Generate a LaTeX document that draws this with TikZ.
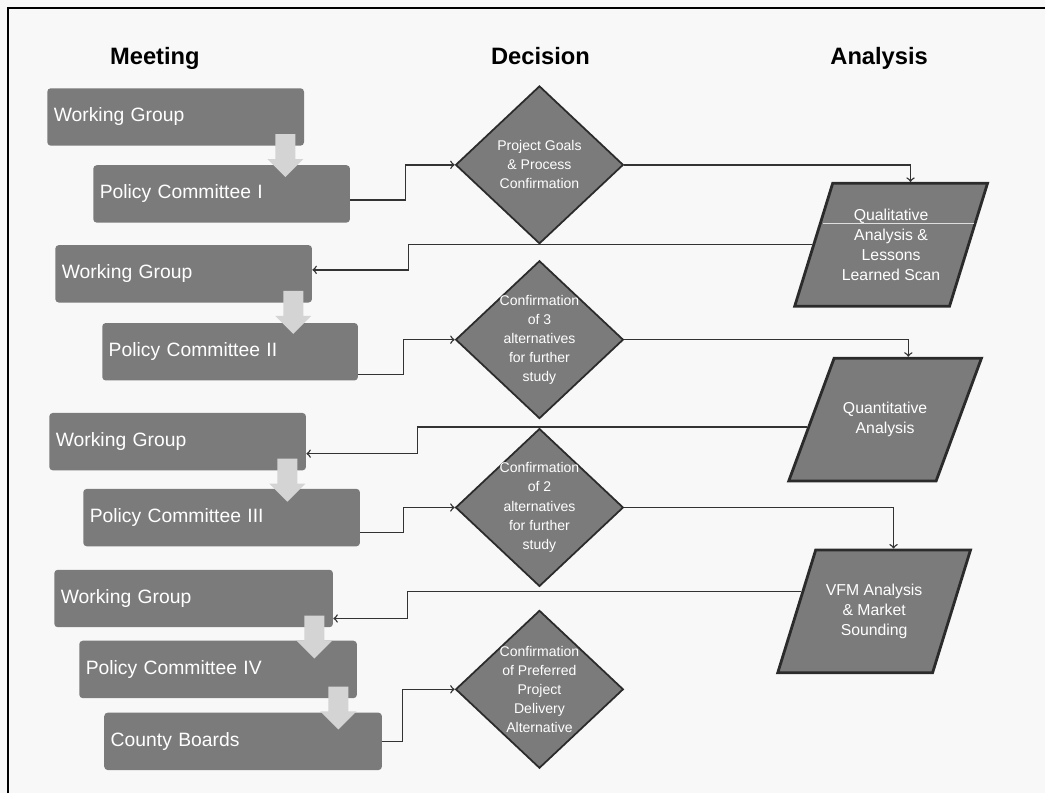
\documentclass[tikz,border=0pt]{standalone}
\usepackage{xcolor}
\usepackage{fontspec}
\setmainfont{Liberation Sans}
\usetikzlibrary{shapes.geometric,calc}

\definecolor{boxgray}{HTML}{7B7B7B}
\definecolor{edgegray}{HTML}{2B2B2B}
\definecolor{paper}{HTML}{F8F8F8}

\begin{document}
\begin{tikzpicture}[x=0.02cm,y=-0.02cm]
    	\colorlet{linecolor}{black!80}
    	\colorlet{flowcolor}{black!17}
    	\tikzset{meetbox/.style={rectangle,rounded corners=2pt,fill=boxgray,text=white,
    	  anchor=north west,minimum height=1.15cm,inner xsep=0.13cm,
    	  text width=#1,align=left,font=\fontsize{11}{13}\selectfont}}
    	\tikzset{decbox/.style={diamond,draw=edgegray,line width=1pt,fill=boxgray,
    	  minimum width=3.36cm,minimum height=3.16cm,inner sep=0pt}}
    	\tikzset{dectext/.style={text=white,align=center,font=\fontsize{8}{10.9}\selectfont}}
    	\tikzset{anabox/.style={trapezium,trapezium stretches=true,draw=edgegray,
    	  line width=1.6pt,fill=boxgray,minimum width=3.86cm,minimum height=2.46cm,inner sep=2pt}}
    	\tikzset{anatext/.style={text=white,align=center,font=\fontsize{9}{11.5}\selectfont}}
    	\tikzset{heading/.style={anchor=base,font=\fontsize{13.5}{15}\selectfont\bfseries}}
    	\tikzset{link/.style={draw=linecolor,line width=0.8pt,->}}

    	\fill[paper] (0,0) rectangle (1046,794);
    	\draw[line width=1.2pt] (8,794) -- (8,8) -- (1046,8);

    	\node[heading] (hMeet) at (155,65) {Meeting};
    	\node[heading] (hDec) at (541,65) {Decision};
    	\node[heading] (hAna) at (880,65) {Analysis};

    	\node[meetbox=4.88cm] (wgA) at (47,88) {Working Group};
    	\node[meetbox=4.88cm] (pcA) at (93,165) {Policy Committee I};
    	\node[meetbox=4.88cm] (wgB) at (55,245) {Working Group};
    	\node[meetbox=4.86cm] (pcB) at (102,323) {Policy Committee II};
    	\node[meetbox=4.88cm] (wgC) at (49,413) {Working Group};
    	\node[meetbox=5.28cm] (pcC) at (83,489) {Policy Committee III};
    	\node[meetbox=5.32cm] (wgD) at (54,570) {Working Group};
    	\node[meetbox=5.30cm] (pcD) at (79,641) {Policy Committee IV};
    	\node[meetbox=5.30cm] (cbE) at (104,713) {County Boards};

    	\foreach \u in {wgA,wgB,wgC,wgD,pcD}
    	  \fill[flowcolor] ($(\u.south east)+(-29,-12)$) -- ++(20,0) -- ++(0,25)
    	    -- ++(8,0) -- ++(-18,18) -- ++(-18,-18) -- ++(8,0) -- cycle;

    	\node[decbox] (dA) at (540,165) {};
    	\node[dectext] (dAt) at (dA) {Project Goals\\\& Process\\Confirmation};
    	\node[decbox] (dB) at (540,340) {};
    	\node[dectext] (dBt) at (dB) {Confirmation\\of 3\\alternatives\\for further\\study};
    	\node[decbox] (dC) at (540,508) {};
    	\node[dectext] (dCt) at (dC) {Confirmation\\of 2\\alternatives\\for further\\study};
    	\node[decbox] (dD) at (540,690) {};
    	\node[dectext] (dDt) at (dD) {Confirmation\\of Preferred\\Project\\Delivery\\Alternative};

    	\node[anabox,trapezium left angle=72,trapezium right angle=108] (qual) at (892,245) {};
    	\draw[white!75!boxgray] ($(qual.top left corner)!0.33!(qual.bottom left corner)+(4,0)$) --
    	  ($(qual.top right corner)!0.33!(qual.bottom right corner)+(-3,0)$);
    	\node[anatext] (qualt) at (qual) {Qualitative\\Analysis \&\\Lessons\\Learned Scan};
    	\node[anabox,trapezium left angle=66,trapezium right angle=114] (quan) at (886,420) {};
    	\node[anatext] (quant) at (quan) {Quantitative\\Analysis};
    	\node[anabox,trapezium left angle=72,trapezium right angle=108] (vfm) at (875,612) {};
    	\node[anatext] (vfmt) at (vfm) {VFM Analysis\\\& Market\\Sounding};

    	\draw[link] ($(pcA.east)+(0,6)$) -- ++(55,0) |- (dA.west);
    	\draw[link] (dA.east) -| (qual.top side);
    	\draw[link] (qual.left side) -| ($(wgB.east)+(96,-4)$) -- ($(wgB.east)+(0,-4)$);
    	\draw[link] ($(pcB.east)+(0,23)$) -- ++(45,0) |- (dB.west);
    	\draw[link] (dB.east) -| (quan.top side);
    	\draw[link] ($(quan.top left corner)!0.56!(quan.bottom left corner)$) -|
    	  ($(wgC.east)+(111,12)$) -- ($(wgC.east)+(0,12)$);
    	\draw[link] ($(pcC.east)+(0,15)$) -- ++(43,0) |- (dC.west);
    	\draw[link] (dC.east) -| (vfm.top side);
    	\draw[link] ($(vfm.top left corner)!0.34!(vfm.bottom left corner)$) -|
    	  ($(wgD.east)+(74,20)$) -- ($(wgD.east)+(0,20)$);
    	\draw[link] (cbE.east) -- ++(20,0) |- (dD.west);
    \end{tikzpicture}
\end{document}
